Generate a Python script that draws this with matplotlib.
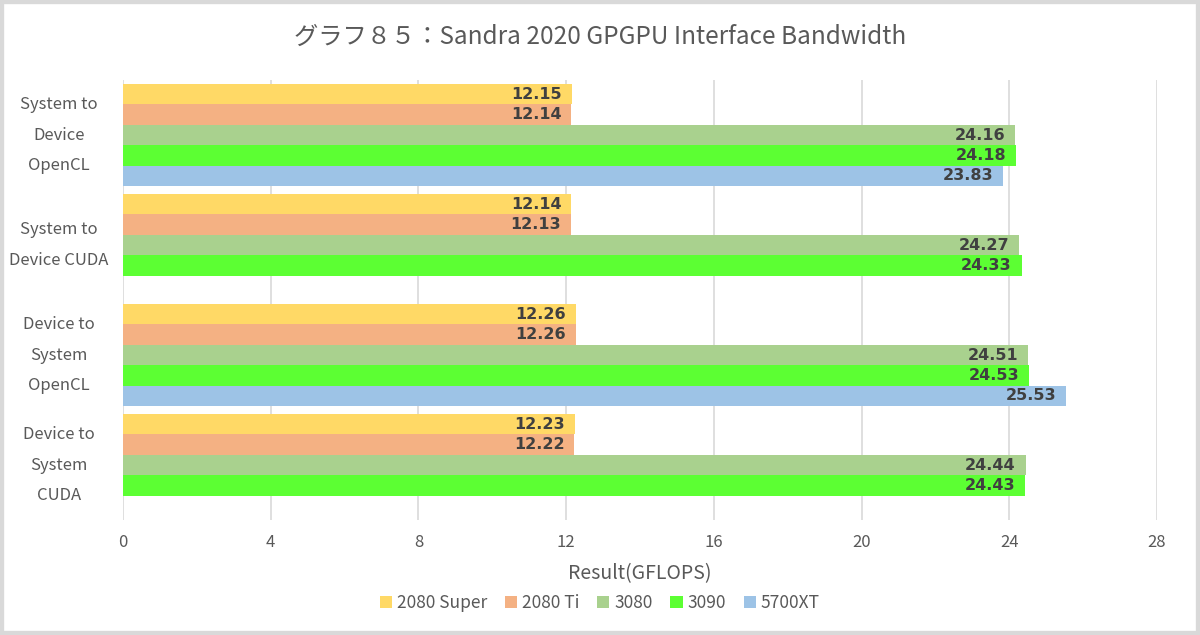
import numpy as np
import matplotlib.pyplot as plt
from matplotlib.patches import Rectangle

plt.rcParams['font.family'] = ['Noto Sans CJK JP', 'DejaVu Sans']

categories = ["System to\nDevice\nOpenCL", "System to\nDevice CUDA",
              "Device to\nSystem\nOpenCL", "Device to\nSystem\nCUDA"]
series = ["2080 Super", "2080 Ti", "3080", "3090", "5700XT"]
colors = ["#FFD966", "#F4B183", "#A9D18E", "#5CFF33", "#9DC3E6"]

super_2080 = [12.15, 12.14, 12.26, 12.23]
ti_2080 = [12.14, 12.13, 12.26, 12.22]
rtx_3080 = [24.16, 24.27, 24.51, 24.44]
rtx_3090 = [24.18, 24.33, 24.53, 24.43]
rx_5700xt = [23.83, np.nan, 25.53, np.nan]
values = [super_2080, ti_2080, rtx_3080, rtx_3090, rx_5700xt]

txt = '#595959'
fig = plt.figure(figsize=(12, 6.35), dpi=100)
ax = fig.add_axes([0.1025, 0.181, 0.8617, 0.693])

h = 20.4 / 110
pad = 4 / 110
for j, (name, vals, c) in enumerate(zip(series, values, colors)):
    ys = [i - 0.5 + pad + h * (j + 0.5) for i in range(len(categories))]
    for y, v in zip(ys, vals):
        if np.isnan(v):
            continue
        ax.barh(y, v, height=h, color=c, zorder=2)
        ax.annotate(f"{v:.2f}", (v, y), xytext=(-7, 0), textcoords='offset points',
                    ha='right', va='center', fontsize=11.5, fontweight='bold',
                    family='DejaVu Sans', color='#404040', zorder=3)
    ax.barh(np.nan, 0, color=c, label=name)

ax.set_ylim(3.5, -0.5)
ax.set_xlim(0, 28)
ax.set_xticks(range(0, 29, 4))
ax.set_yticks(range(len(categories)))
ax.set_yticklabels(categories, fontsize=12, color=txt, ha='center', va='center',
                   linespacing=2.05)
ax.tick_params(axis='y', length=0, pad=46)
ax.tick_params(axis='x', length=0, pad=10, labelsize=12, labelcolor=txt)
ax.grid(axis='x', color='#D9D9D9', linewidth=1.2, zorder=0)
for s in ax.spines.values():
    s.set_visible(False)

ax.set_xlabel("Result(GFLOPS)", fontsize=14, color=txt, labelpad=9)
fig.suptitle("グラフ８５：Sandra 2020 GPGPU Interface Bandwidth", y=0.962,
             fontsize=17.5, color=txt)
fig.legend(loc='center', bbox_to_anchor=(0.5, 0.05), ncol=5, frameon=False,
           fontsize=12.5, handlelength=0.7, handleheight=0.7, handletextpad=0.3,
           columnspacing=1.0, labelcolor=txt)

fig.patches.append(Rectangle((0, 0), 1, 1, transform=fig.transFigure, fill=False,
                             edgecolor='#D9D9D9', linewidth=6))

fig.savefig("out.png", dpi=100)
